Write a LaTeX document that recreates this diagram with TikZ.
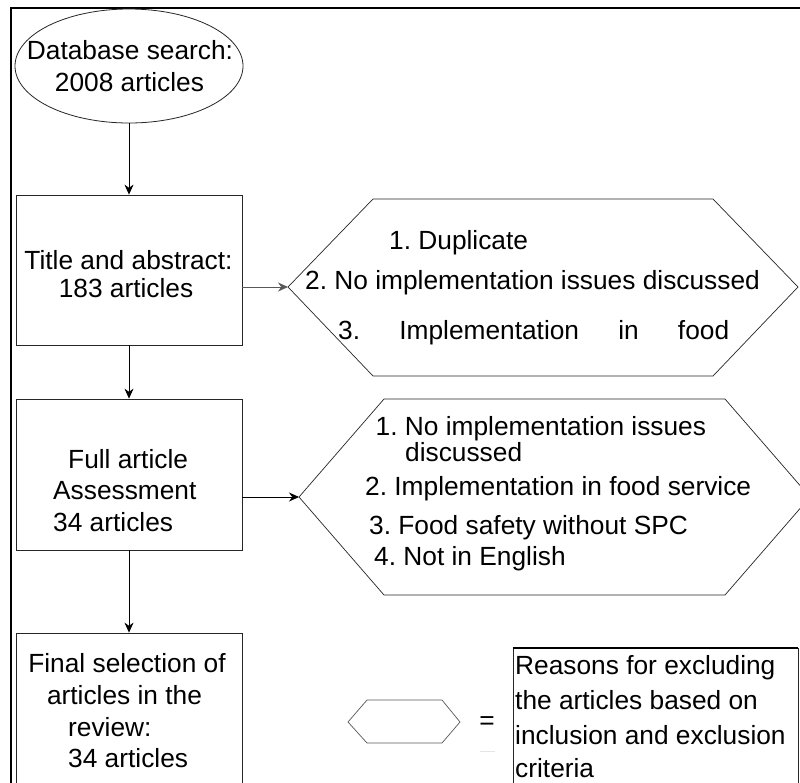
\documentclass[tikz,border=0pt]{standalone}
\usepackage{fontspec}
\setmainfont{Liberation Sans}
\usetikzlibrary{shapes.geometric,arrows.meta}
\begin{document}
\frenchspacing
\begin{tikzpicture}[x=1pt,y=-1pt,
  box/.style={draw=black!85, line width=0.8pt, inner sep=0pt},
  txt/.style={inner sep=0pt, anchor=base west, font=\fontsize{26.3}{30}\selectfont\frenchspacing},
  txtc/.style={inner sep=0pt, anchor=base, font=\fontsize{26.3}{30}\selectfont\frenchspacing},
  hexa/.style={draw=black!85, line width=0.7pt},
  arr/.style={-{Stealth[length=10pt,width=9pt]}, line width=0.8pt}]
\useasboundingbox (0,0) rectangle (800,782);
\clip (0,0) rectangle (800,782);
\fill[white] (0,0) rectangle (800,782);
% outer frame
\draw[line width=2pt] (11,800) -- (11,8) -- (810,8);

% database search
\node[ellipse, draw=black!85, line width=0.8pt, minimum width=228pt, minimum height=114pt, inner sep=0pt] (db) at (129,66) {};
\node[txtc] (dbt1) at (130,59) {Database search:};
\node[txtc] (dbt2) at (129.5,91) {2008 articles};

% title and abstract
\node[box, minimum width=226pt, minimum height=150pt] (ta) at (129,270) {};
\node[txtc] (tat1) at (128.5,269) {Title and abstract:};
\node[txtc] (tat2) at (126,297) {183 articles};

% full article
\node[box, minimum width=226pt, minimum height=151pt] (fa) at (129,474.5) {};
\node[txt] (fat1) at (68,468) {Full article};
\node[txt] (fat2) at (53,499) {Assessment};
\node[txt] (fat3) at (53,531) {34 articles};

% final selection
\node[box, minimum width=226pt, minimum height=167pt] (fs) at (129,716.5) {};
\node[txtc] (fst1) at (127,672) {Final selection of};
\node[txtc] (fst2) at (124.5,704) {articles in the};
\node[txt] (fst3) at (68,736) {review:};
\node[txt] (fst4) at (68,767) {34 articles};

% hexagon 1
\draw[hexa] (288,287) -- (373,199) -- (713,199) -- (798,287) -- (713,376) -- (373,376) -- cycle;
\coordinate (h1w) at (288,287);
\node[txt] (h1t1) at (389,249) {1. Duplicate};
\node[txt] (h1t2) at (305,289) {2. No implementation issues discussed};
\node[txt] (h1t3) at (338,339) {\makebox[391pt][s]{3. Implementation in food}};

% hexagon 2
\draw[hexa] (299,497) -- (384,399) -- (725,399) -- (810,497) -- (725,595) -- (384,595) -- cycle;
\coordinate (h2w) at (299,497);
\node[txt] (h2t1) at (375.5,435.5) {1. No implementation issues};
\node[txt] (h2t2) at (405,461) {discussed};
\node[txt] (h2t3) at (365,495) {2. Implementation in food service};
\node[txt] (h2t4) at (369,534) {3. Food safety without SPC};
\node[txt] (h2t5) at (374,565) {4. Not in English};

% legend
\draw[draw=black!65, line width=0.7pt] (348,722) -- (367,700) -- (442,700) -- (460,722) -- (442,743) -- (367,743) -- cycle;
\node[txtc] (eq) at (487,729) {=};
\draw[black!10, line width=0.8pt] (480,751) -- (495,751);
\node[box, minimum width=285pt, minimum height=160pt] (lg) at (655.5,728) {};
\draw[line width=1.8pt] (lg.north west) -- (lg.north east);
\node[txt] (lgt1) at (515,674) {Reasons for excluding};
\node[txt] (lgt2) at (515,709) {the articles based on};
\node[txt] (lgt3) at (515,744) {inclusion and exclusion};
\node[txt] (lgt4) at (515,777) {criteria};

% connectors
\draw[arr] (db.south) -- (ta.north);
\draw[arr] (ta.south) -- (fa.north);
\draw[arr] (fa.south) -- (fs.north);
\draw[arr, draw=black!65] (ta.east |- h1w) -- (h1w);
\draw[arr] (fa.east |- h2w) -- (h2w);
\end{tikzpicture}
\end{document}
